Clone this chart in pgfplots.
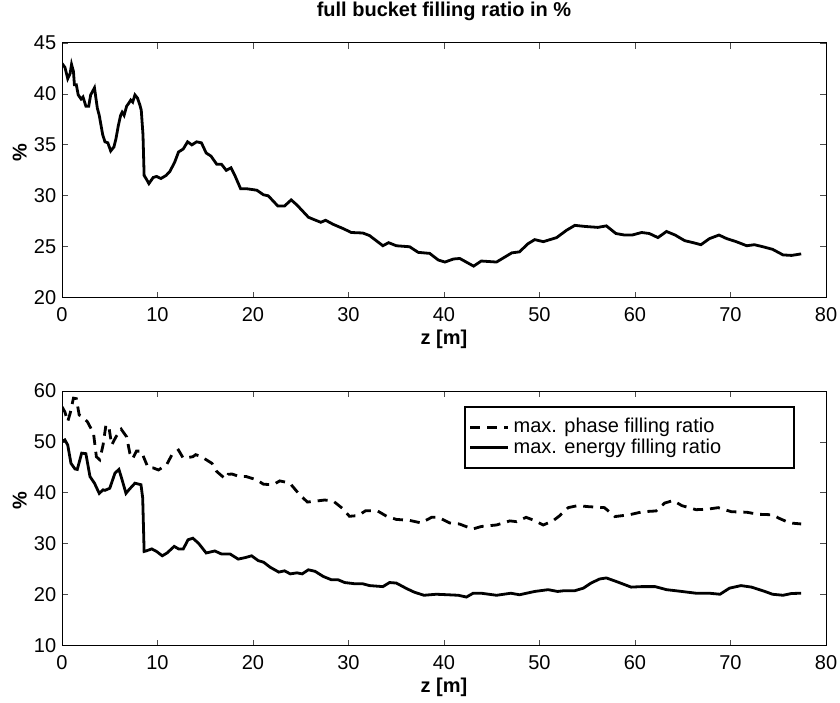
\documentclass[border=0pt]{standalone}
\usepackage{pgfplots}
\pgfplotsset{compat=1.18}
\usepackage{fontspec}
\setmainfont{Liberation Sans}
\begin{document}
\begin{tikzpicture}
\useasboundingbox (0,0) rectangle (420pt,351pt);
\pgfplotsset{
  myax/.style={
    width=382pt, height=127.35pt, scale only axis,
    xmin=0, xmax=80, xtick={0,10,...,80},
    axis line style={line width=0.5pt},
    tick style={line width=0.4pt, black!70},
    major tick length=3pt,
    tick align=inside,
    xtick pos=both, ytick pos=both,
    /pgf/number format/assume math mode=true,
    tick label style={font=\fontsize{10}{12}\selectfont},
    xticklabel style={yshift=-1.5pt},
    yticklabel style={xshift=0.6pt},
    xlabel={z [m]}, ylabel={\%},
    every axis x label/.style={at={(axis description cs:0.5,0)}, anchor=north, yshift=-12.5pt,
      font=\fontsize{10}{12}\selectfont\bfseries},
    every axis y label/.style={at={([xshift=-17.65pt]axis description cs:0,0.571)}, rotate=90, anchor=base,
      font=\fontsize{10}{12}\selectfont\bfseries},
  }
}
\begin{axis}[myax, at={(31pt,202.15pt)}, anchor=south west,
  ymin=20, ymax=45, ytick={20,25,...,45},
  title={full bucket filling ratio in \%},
  title style={font=\fontsize{10}{12}\selectfont\bfseries, at={(axis description cs:0.5,1)}, anchor=base, yshift=7.3pt}]
\addplot[black, line width=1.4pt] coordinates {
(0,43.0) (0.31,42.6) (0.6,41.5) (0.85,42.0) (1.0,42.9) (1.2,42.2) (1.3,40.9) (1.5,40.9)
(1.7,39.9) (2.0,39.5) (2.2,39.7) (2.5,38.8) (2.8,38.8) (3.0,39.9) (3.4,40.6) (3.7,38.6)
(3.9,37.9) (4.26,36.0) (4.5,35.3) (4.8,35.2) (5.1,34.4) (5.44,34.8) (5.65,35.6) (5.9,36.9)
(6.14,37.9) (6.3,38.2) (6.5,37.9) (6.77,38.8) (7.0,39.1) (7.2,39.4) (7.4,39.2) (7.64,39.9)
(7.9,39.6) (8.16,38.9) (8.3,38.4) (8.48,36.0) (8.6,32.0) (8.86,31.6) (9.1,31.2) (9.55,31.8)
(9.9,31.9) (10.36,31.7) (10.9,32.0) (11.3,32.4) (11.8,33.3) (12.2,34.3) (12.7,34.6) (13.15,35.3)
(13.6,35.0) (14.1,35.3) (14.6,35.2) (15.1,34.2) (15.6,33.9) (16.2,33.1) (16.7,33.1) (17.2,32.5)
(17.7,32.75) (18.1,32.0) (18.7,30.7) (19.3,30.7) (20.4,30.55) (21.1,30.1) (21.6,30.0) (22.6,29.0)
(23.3,29.0) (24.0,29.6) (24.6,29.1) (25.8,27.9) (26.3,27.7) (27.1,27.4) (27.6,27.6) (28.4,27.2)
(29.4,26.8) (30.3,26.4) (31.5,26.35) (32.2,26.1) (33.6,25.1) (34.2,25.4) (35.0,25.1) (36.4,25.0)
(37.3,24.45) (38.5,24.35) (39.4,23.7) (40.1,23.5) (41.0,23.8) (41.65,23.85) (43.1,23.1) (43.9,23.6)
(45.5,23.5) (47.1,24.4) (47.9,24.5) (48.8,25.3) (49.5,25.7) (50.4,25.5) (51.1,25.7) (51.8,25.9)
(52.8,26.6) (53.7,27.1) (54.7,27.0) (56.1,26.9) (57.0,27.05) (58.0,26.3) (58.9,26.15) (59.7,26.15)
(60.7,26.4) (61.5,26.3) (62.4,25.9) (63.3,26.5) (64.2,26.15) (65.2,25.6) (66.1,25.4) (66.9,25.2)
(67.8,25.8) (68.8,26.15) (69.6,25.8) (70.6,25.5) (71.7,25.1) (72.5,25.2) (73.4,25.0) (74.4,24.75)
(75.5,24.2) (76.4,24.15) (77.4,24.3)
};
\end{axis}
\begin{axis}[myax, at={(31pt,28.15pt)}, anchor=south west,
  ymin=10, ymax=60, ytick={10,20,...,60},
  legend style={at={(0.9594,0.941)}, anchor=north east, draw=black, line width=0.8pt,
    font=\fontsize{10}{12}\selectfont, inner xsep=2pt, inner ysep=5pt,
    nodes={inner xsep=2pt, inner ysep=0.8pt}},
  legend cell align=left,
  legend image code/.code={\draw[#1] (0cm,0cm) -- (19pt,0cm);}]
\addplot[black, line width=1.4pt, dash pattern=on 5pt off 3.5pt] coordinates {
(0,56.9) (0.3,55.9) (0.6,54.0) (0.85,55.6) (1.2,58.6) (1.5,58.5) (1.8,55.3) (2.1,55.0)
(2.65,54.0) (3.3,51.7) (3.6,47.1) (3.95,46.5) (4.3,49.4) (4.6,53.3) (4.9,53.1) (5.2,49.4)
(5.65,51.0) (6.2,52.5) (6.77,51.0) (7.1,47.8) (7.4,46.7) (7.8,48.2) (8.3,48.2) (8.6,46.8)
(9.0,45.0) (9.55,44.9) (10.1,44.5) (10.95,45.5) (11.5,47.45) (12.2,48.4) (12.7,46.8) (13.7,47.1)
(14.0,47.5) (14.6,47.1) (15.7,45.8) (16.2,44.2) (17.1,42.75) (17.4,43.65) (17.8,43.7) (18.6,43.2)
(19.3,43.2) (20.4,42.55) (21.1,41.7) (22.1,41.6) (22.8,42.35) (23.7,42.0) (24.0,41.6) (24.9,39.6)
(25.7,38.2) (26.65,38.4) (27.5,38.6) (28.4,38.4) (29.4,36.9) (30.1,35.4) (31.0,35.55) (31.8,36.5)
(33.0,36.5) (34.0,35.4) (35.0,34.8) (36.4,34.6) (37.6,34.1) (38.7,35.2) (39.4,35.2) (40.6,34.1)
(41.6,33.9) (43.0,32.9) (43.9,33.4) (45.5,33.7) (46.9,34.5) (47.6,34.35) (48.6,35.2) (49.3,34.7)
(50.4,33.7) (51.4,34.5) (52.1,35.5) (53.0,37.1) (54.0,37.5) (55.1,37.3) (56.8,37.1) (57.9,35.35)
(59.4,35.7) (60.8,36.3) (62.2,36.45) (63.1,38.0) (64.0,38.5) (64.9,37.5) (66.4,36.7) (67.6,36.8)
(68.7,37.1) (70.1,36.3) (71.7,36.2) (72.9,35.8) (74.4,35.7) (75.1,35.0) (76.2,34.1) (77.4,33.9)
};
\addlegendentry{max. phase filling ratio}
\addplot[black, line width=1.4pt] coordinates {
(0,50.06) (0.3,50.4) (0.6,49.4) (0.94,45.8) (1.36,44.7) (1.6,44.6) (2.06,47.8) (2.5,47.7)
(2.93,43.2) (3.4,41.9) (3.9,39.9) (4.3,40.6) (4.5,40.5) (5.0,40.9) (5.55,43.9) (5.96,44.6)
(6.24,42.9) (6.7,39.9) (7.0,40.6) (7.64,41.9) (8.27,41.6) (8.45,39.0) (8.6,28.5) (8.8,28.6)
(9.4,29.0) (9.9,28.5) (10.5,27.65) (11.0,28.2) (11.75,29.5) (12.2,29.0) (12.7,29.0) (13.2,30.8)
(13.7,31.1) (14.3,30.1) (15.1,28.2) (16.0,28.6) (16.7,28.0) (17.6,28.0) (18.45,27.0) (19.2,27.3)
(19.85,27.65) (20.55,26.7) (21.1,26.4) (21.8,25.4) (22.7,24.45) (23.3,24.7) (23.9,24.1) (24.6,24.3)
(25.15,24.1) (25.8,24.9) (26.5,24.6) (27.35,23.6) (28.2,22.95) (28.9,22.95) (29.6,22.4) (30.7,22.15)
(31.5,22.15) (32.2,21.8) (33.6,21.6) (34.3,22.4) (35.0,22.3) (36.1,21.2) (36.9,20.5) (37.9,19.9)
(39.2,20.1) (40.4,20.0) (41.5,19.9) (42.35,19.55) (43.05,20.3) (43.9,20.3) (45.5,19.9) (47.0,20.3)
(47.9,20.0) (49.5,20.65) (50.9,21.0) (51.9,20.65) (52.6,20.8) (53.7,20.8) (54.6,21.3) (55.4,22.3)
(56.3,23.1) (57.0,23.3) (58.05,22.6) (59.6,21.5) (60.7,21.6) (62.1,21.6) (63.3,21.0) (64.9,20.65)
(66.4,20.3) (67.8,20.3) (68.9,20.1) (69.9,21.3) (71.1,21.8) (72.2,21.5) (73.6,20.65) (74.4,20.1)
(75.5,19.9) (76.4,20.25) (77.4,20.3)
};
\addlegendentry{max. energy filling ratio\rule{32.5pt}{0pt}}
\end{axis}
\end{tikzpicture}
\end{document}
